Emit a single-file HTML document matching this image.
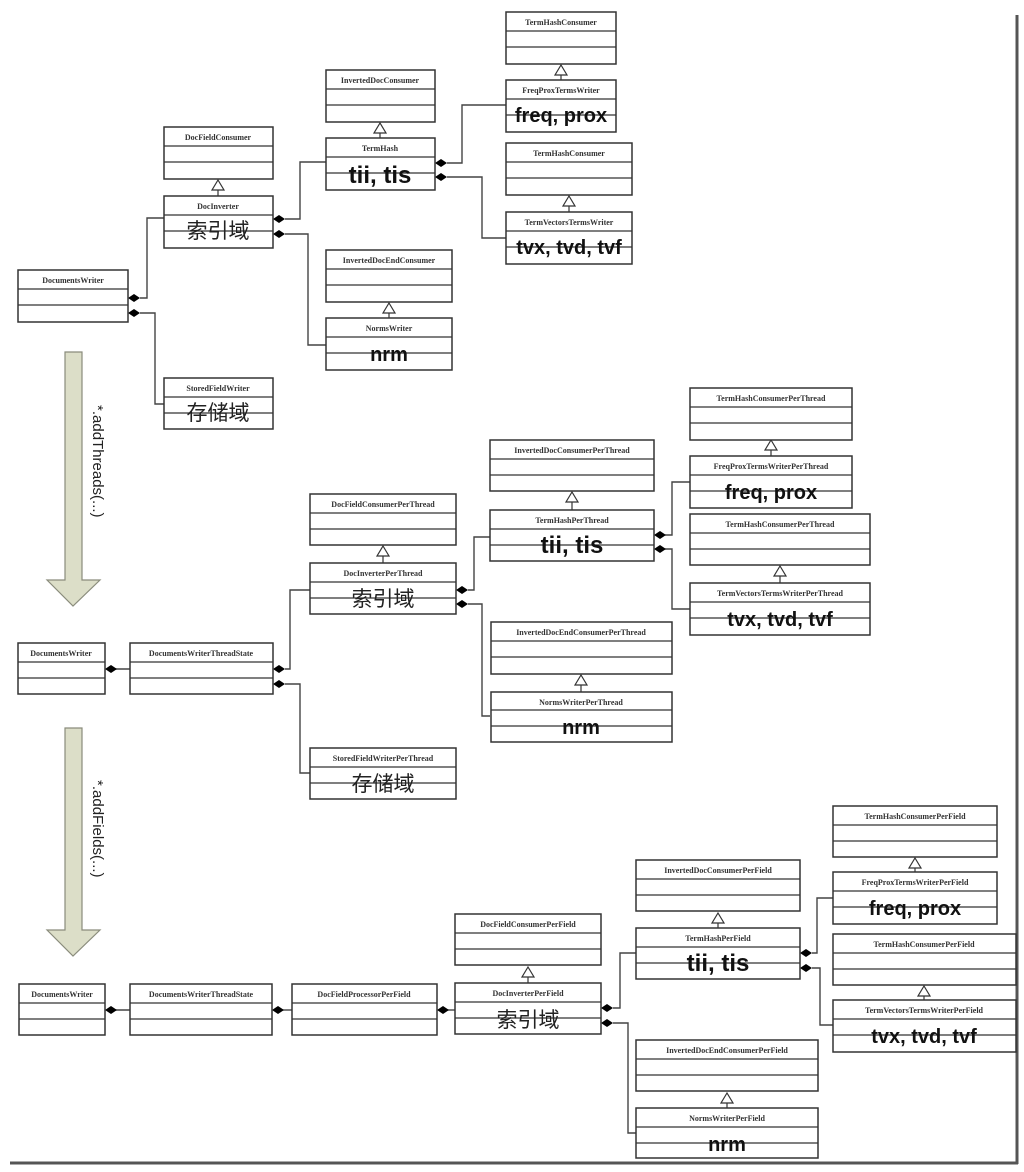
<!DOCTYPE html>
<html><head><meta charset="utf-8"><style>
html,body{margin:0;padding:0;background:#fff;width:1024px;height:1172px;overflow:hidden}
svg text{font-family:"Liberation Serif","Noto Serif CJK SC",serif}
.t{font-size:8px;font-weight:bold;fill:#333;text-anchor:middle}
.b{font-family:"Liberation Sans",sans-serif !important;font-size:20px;font-weight:bold;fill:#111;text-anchor:middle}
.c{font-family:"Liberation Sans","Noto Sans CJK SC",sans-serif !important;font-size:21px;fill:#222;text-anchor:middle}
</style></head><body>
<svg width="1024" height="1172" viewBox="0 0 1024 1172" xmlns="http://www.w3.org/2000/svg">
<defs>
<g id="dm"><polygon points="0,0 6,-4 12,0 6,4" fill="#000"/></g>
<g id="tri"><polygon points="0,0 6,10 -6,10" fill="#fff" stroke="#333" stroke-width="1.2"/></g>
</defs>
<!-- frame -->
<line x1="1017" y1="15" x2="1017" y2="1164" stroke="#555" stroke-width="3"/>
<line x1="10" y1="1163" x2="1018" y2="1163" stroke="#555" stroke-width="3"/>

<g fill="none" stroke="#444" stroke-width="1.4">
<!-- Section 1 connectors -->
<polyline points="140,298 147,298 147,218 164,218"/>
<polyline points="140,313 155,313 155,404 164,404"/>
<polyline points="285,219 300,219 300,162 326,162"/>
<polyline points="285,234 308,234 308,345 326,345"/>
<polyline points="447,163 462,163 462,105 506,105"/>
<polyline points="447,177 482,177 482,238 506,238"/>
<!-- Section 2 -->
<line x1="112" y1="669" x2="130" y2="669"/>
<polyline points="285,669 290,669 290,590 310,590"/>
<polyline points="285,684 300,684 300,773 310,773"/>
<polyline points="468,590 474,590 474,537 490,537"/>
<polyline points="468,604 482,604 482,716 490,716"/>
<polyline points="665,535 672,535 672,482 690,482"/>
<polyline points="665,549 672,549 672,609 690,609"/>
<!-- Section 3 -->
<line x1="112" y1="1010" x2="130" y2="1010"/>
<line x1="279" y1="1010" x2="292" y2="1010"/>
<line x1="443" y1="1010" x2="455" y2="1010"/>
<polyline points="613,1008 620,1008 620,953 636,953"/>
<polyline points="613,1023 628,1023 628,1133 636,1133"/>
<polyline points="812,953 817,953 817,898 833,898"/>
<polyline points="812,968 820,968 820,1025 833,1025"/>
</g>

<!-- diamonds -->
<use href="#dm" x="128" y="298"/><use href="#dm" x="128" y="313"/>
<use href="#dm" x="273" y="219"/><use href="#dm" x="273" y="234"/>
<use href="#dm" x="435" y="163"/><use href="#dm" x="435" y="177"/>
<use href="#dm" x="105" y="669"/>
<use href="#dm" x="273" y="669"/><use href="#dm" x="273" y="684"/>
<use href="#dm" x="456" y="590"/><use href="#dm" x="456" y="604"/>
<use href="#dm" x="654" y="535"/><use href="#dm" x="654" y="549"/>
<use href="#dm" x="105" y="1010"/><use href="#dm" x="272" y="1010"/><use href="#dm" x="437" y="1010"/>
<use href="#dm" x="601" y="1008"/><use href="#dm" x="601" y="1023"/>
<use href="#dm" x="800" y="953"/><use href="#dm" x="800" y="968"/>

<!-- generalization -->
<g stroke="#333" stroke-width="1.2">
<use href="#tri" x="218" y="180"/><line x1="218" y1="190" x2="218" y2="196"/>
<use href="#tri" x="380" y="123"/><line x1="380" y1="133" x2="380" y2="138"/>
<use href="#tri" x="561" y="65"/><line x1="561" y1="75" x2="561" y2="80"/>
<use href="#tri" x="569" y="196"/><line x1="569" y1="206" x2="569" y2="212"/>
<use href="#tri" x="389" y="303"/><line x1="389" y1="313" x2="389" y2="318"/>
<use href="#tri" x="383" y="546"/><line x1="383" y1="556" x2="383" y2="563"/>
<use href="#tri" x="572" y="492"/><line x1="572" y1="502" x2="572" y2="510"/>
<use href="#tri" x="771" y="440"/><line x1="771" y1="450" x2="771" y2="456"/>
<use href="#tri" x="780" y="566"/><line x1="780" y1="576" x2="780" y2="583"/>
<use href="#tri" x="581" y="675"/><line x1="581" y1="685" x2="581" y2="692"/>
<use href="#tri" x="528" y="967"/><line x1="528" y1="977" x2="528" y2="983"/>
<use href="#tri" x="718" y="913"/><line x1="718" y1="923" x2="718" y2="928"/>
<use href="#tri" x="915" y="858"/><line x1="915" y1="868" x2="915" y2="872"/>
<use href="#tri" x="924" y="986"/><line x1="924" y1="996" x2="924" y2="1000"/>
<use href="#tri" x="727" y="1093"/><line x1="727" y1="1103" x2="727" y2="1108"/>
</g>

<!-- boxes -->
<g fill="#fff" stroke="#333" stroke-width="1.5">
<!-- x,y,w,h=52 -->
<rect x="506" y="12" width="110" height="52"/>
<rect x="506" y="80" width="110" height="52"/>
<rect x="326" y="70" width="109" height="52"/>
<rect x="326" y="138" width="109" height="52"/>
<rect x="506" y="143" width="126" height="52"/>
<rect x="506" y="212" width="126" height="52"/>
<rect x="164" y="127" width="109" height="52"/>
<rect x="164" y="196" width="109" height="52"/>
<rect x="326" y="250" width="126" height="52"/>
<rect x="326" y="318" width="126" height="52"/>
<rect x="18" y="270" width="110" height="52"/>
<rect x="164" y="378" width="109" height="51"/>

<rect x="690" y="388" width="162" height="52"/>
<rect x="690" y="456" width="162" height="52"/>
<rect x="490" y="440" width="164" height="51"/>
<rect x="490" y="510" width="164" height="51"/>
<rect x="690" y="514" width="180" height="51"/>
<rect x="690" y="583" width="180" height="52"/>
<rect x="310" y="494" width="146" height="51"/>
<rect x="310" y="563" width="146" height="51"/>
<rect x="491" y="622" width="181" height="52"/>
<rect x="491" y="692" width="181" height="50"/>
<rect x="18" y="643" width="87" height="51"/>
<rect x="130" y="643" width="143" height="51"/>
<rect x="310" y="748" width="146" height="51"/>

<rect x="833" y="806" width="164" height="51"/>
<rect x="833" y="872" width="164" height="52"/>
<rect x="636" y="860" width="164" height="51"/>
<rect x="636" y="928" width="164" height="51"/>
<rect x="833" y="934" width="183" height="51"/>
<rect x="833" y="1000" width="183" height="52"/>
<rect x="455" y="914" width="146" height="51"/>
<rect x="455" y="983" width="146" height="51"/>
<rect x="636" y="1040" width="182" height="51"/>
<rect x="636" y="1108" width="182" height="50"/>
<rect x="19" y="984" width="86" height="51"/>
<rect x="130" y="984" width="142" height="51"/>
<rect x="292" y="984" width="145" height="51"/>
</g>
<!-- compartment lines -->
<g stroke="#333" stroke-width="1.2">
<line x1="506" y1="31" x2="616" y2="31"/><line x1="506" y1="47" x2="616" y2="47"/>
<line x1="506" y1="99" x2="616" y2="99"/><line x1="506" y1="115" x2="616" y2="115"/>
<line x1="326" y1="89" x2="435" y2="89"/><line x1="326" y1="105" x2="435" y2="105"/>
<line x1="326" y1="157" x2="435" y2="157"/><line x1="326" y1="173" x2="435" y2="173"/>
<line x1="506" y1="162" x2="632" y2="162"/><line x1="506" y1="178" x2="632" y2="178"/>
<line x1="506" y1="231" x2="632" y2="231"/><line x1="506" y1="247" x2="632" y2="247"/>
<line x1="164" y1="146" x2="273" y2="146"/><line x1="164" y1="162" x2="273" y2="162"/>
<line x1="164" y1="215" x2="273" y2="215"/><line x1="164" y1="231" x2="273" y2="231"/>
<line x1="326" y1="269" x2="452" y2="269"/><line x1="326" y1="285" x2="452" y2="285"/>
<line x1="326" y1="337" x2="452" y2="337"/><line x1="326" y1="353" x2="452" y2="353"/>
<line x1="18" y1="289" x2="128" y2="289"/><line x1="18" y1="305" x2="128" y2="305"/>
<line x1="164" y1="397" x2="273" y2="397"/><line x1="164" y1="413" x2="273" y2="413"/>

<line x1="690" y1="407" x2="852" y2="407"/><line x1="690" y1="423" x2="852" y2="423"/>
<line x1="690" y1="475" x2="852" y2="475"/><line x1="690" y1="491" x2="852" y2="491"/>
<line x1="490" y1="459" x2="654" y2="459"/><line x1="490" y1="475" x2="654" y2="475"/>
<line x1="490" y1="529" x2="654" y2="529"/><line x1="490" y1="545" x2="654" y2="545"/>
<line x1="690" y1="533" x2="870" y2="533"/><line x1="690" y1="549" x2="870" y2="549"/>
<line x1="690" y1="602" x2="870" y2="602"/><line x1="690" y1="618" x2="870" y2="618"/>
<line x1="310" y1="513" x2="456" y2="513"/><line x1="310" y1="529" x2="456" y2="529"/>
<line x1="310" y1="582" x2="456" y2="582"/><line x1="310" y1="598" x2="456" y2="598"/>
<line x1="491" y1="641" x2="672" y2="641"/><line x1="491" y1="657" x2="672" y2="657"/>
<line x1="491" y1="710" x2="672" y2="710"/><line x1="491" y1="726" x2="672" y2="726"/>
<line x1="18" y1="662" x2="105" y2="662"/><line x1="18" y1="678" x2="105" y2="678"/>
<line x1="130" y1="662" x2="273" y2="662"/><line x1="130" y1="678" x2="273" y2="678"/>
<line x1="310" y1="767" x2="456" y2="767"/><line x1="310" y1="783" x2="456" y2="783"/>

<line x1="833" y1="825" x2="997" y2="825"/><line x1="833" y1="841" x2="997" y2="841"/>
<line x1="833" y1="891" x2="997" y2="891"/><line x1="833" y1="907" x2="997" y2="907"/>
<line x1="636" y1="879" x2="800" y2="879"/><line x1="636" y1="895" x2="800" y2="895"/>
<line x1="636" y1="947" x2="800" y2="947"/><line x1="636" y1="963" x2="800" y2="963"/>
<line x1="833" y1="953" x2="1016" y2="953"/><line x1="833" y1="969" x2="1016" y2="969"/>
<line x1="833" y1="1019" x2="1016" y2="1019"/><line x1="833" y1="1035" x2="1016" y2="1035"/>
<line x1="455" y1="933" x2="601" y2="933"/><line x1="455" y1="949" x2="601" y2="949"/>
<line x1="455" y1="1002" x2="601" y2="1002"/><line x1="455" y1="1018" x2="601" y2="1018"/>
<line x1="636" y1="1059" x2="818" y2="1059"/><line x1="636" y1="1075" x2="818" y2="1075"/>
<line x1="636" y1="1127" x2="818" y2="1127"/><line x1="636" y1="1143" x2="818" y2="1143"/>
<line x1="19" y1="1003" x2="105" y2="1003"/><line x1="19" y1="1019" x2="105" y2="1019"/>
<line x1="130" y1="1003" x2="272" y2="1003"/><line x1="130" y1="1019" x2="272" y2="1019"/>
<line x1="292" y1="1003" x2="437" y2="1003"/><line x1="292" y1="1019" x2="437" y2="1019"/>
</g>

<!-- titles -->
<g class="t">
<text class="t" x="561" y="25">TermHashConsumer</text>
<text class="t" x="561" y="93">FreqProxTermsWriter</text>
<text class="t" x="380" y="83">InvertedDocConsumer</text>
<text class="t" x="380" y="151">TermHash</text>
<text class="t" x="569" y="156">TermHashConsumer</text>
<text class="t" x="569" y="225">TermVectorsTermsWriter</text>
<text class="t" x="218" y="140">DocFieldConsumer</text>
<text class="t" x="218" y="209">DocInverter</text>
<text class="t" x="389" y="263">InvertedDocEndConsumer</text>
<text class="t" x="389" y="331">NormsWriter</text>
<text class="t" x="73" y="283">DocumentsWriter</text>
<text class="t" x="218" y="391">StoredFieldWriter</text>

<text class="t" x="771" y="401">TermHashConsumerPerThread</text>
<text class="t" x="771" y="469">FreqProxTermsWriterPerThread</text>
<text class="t" x="572" y="453">InvertedDocConsumerPerThread</text>
<text class="t" x="572" y="523">TermHashPerThread</text>
<text class="t" x="780" y="527">TermHashConsumerPerThread</text>
<text class="t" x="780" y="596">TermVectorsTermsWriterPerThread</text>
<text class="t" x="383" y="507">DocFieldConsumerPerThread</text>
<text class="t" x="383" y="576">DocInverterPerThread</text>
<text class="t" x="581" y="635">InvertedDocEndConsumerPerThread</text>
<text class="t" x="581" y="705">NormsWriterPerThread</text>
<text class="t" x="61" y="656">DocumentsWriter</text>
<text class="t" x="201" y="656">DocumentsWriterThreadState</text>
<text class="t" x="383" y="761">StoredFieldWriterPerThread</text>

<text class="t" x="915" y="819">TermHashConsumerPerField</text>
<text class="t" x="915" y="885">FreqProxTermsWriterPerField</text>
<text class="t" x="718" y="873">InvertedDocConsumerPerField</text>
<text class="t" x="718" y="941">TermHashPerField</text>
<text class="t" x="924" y="947">TermHashConsumerPerField</text>
<text class="t" x="924" y="1013">TermVectorsTermsWriterPerField</text>
<text class="t" x="528" y="927">DocFieldConsumerPerField</text>
<text class="t" x="528" y="996">DocInverterPerField</text>
<text class="t" x="727" y="1053">InvertedDocEndConsumerPerField</text>
<text class="t" x="727" y="1121">NormsWriterPerField</text>
<text class="t" x="62" y="997">DocumentsWriter</text>
<text class="t" x="201" y="997">DocumentsWriterThreadState</text>
<text class="t" x="364" y="997">DocFieldProcessorPerField</text>
</g>

<!-- big labels -->
<text class="b" x="561" y="122">freq, prox</text>
<text class="b" x="380" y="183" style="font-size:24px">tii, tis</text>
<text class="b" x="569" y="254">tvx, tvd, tvf</text>
<text class="c" x="218" y="238">索引域</text>
<text class="b" x="389" y="361">nrm</text>
<text class="c" x="218" y="420">存储域</text>

<text class="b" x="771" y="499">freq, prox</text>
<text class="b" x="572" y="553" style="font-size:24px">tii, tis</text>
<text class="b" x="780" y="626">tvx, tvd, tvf</text>
<text class="c" x="383" y="606">索引域</text>
<text class="b" x="581" y="734">nrm</text>
<text class="c" x="383" y="791">存储域</text>

<text class="b" x="915" y="915">freq, prox</text>
<text class="b" x="718" y="971" style="font-size:24px">tii, tis</text>
<text class="b" x="924" y="1043">tvx, tvd, tvf</text>
<text class="c" x="528" y="1027">索引域</text>
<text class="b" x="727" y="1151">nrm</text>

<!-- arrows -->
<g fill="#dcdec8" stroke="#8a8c7c" stroke-width="1.2">
<polygon points="65,352 82,352 82,580 100,580 73,606 47,580 65,580"/>
<polygon points="65,728 82,728 82,930 100,930 73,956 47,930 65,930"/>
</g>
<text x="0" y="0" transform="translate(93,405) rotate(90)" style="font-family:'Liberation Sans',sans-serif;font-size:15px;fill:#222">*.addThreads(...)</text>
<text x="0" y="0" transform="translate(93,780) rotate(90)" style="font-family:'Liberation Sans',sans-serif;font-size:15px;fill:#222">*.addFields(...)</text>
</svg>
</body></html>
